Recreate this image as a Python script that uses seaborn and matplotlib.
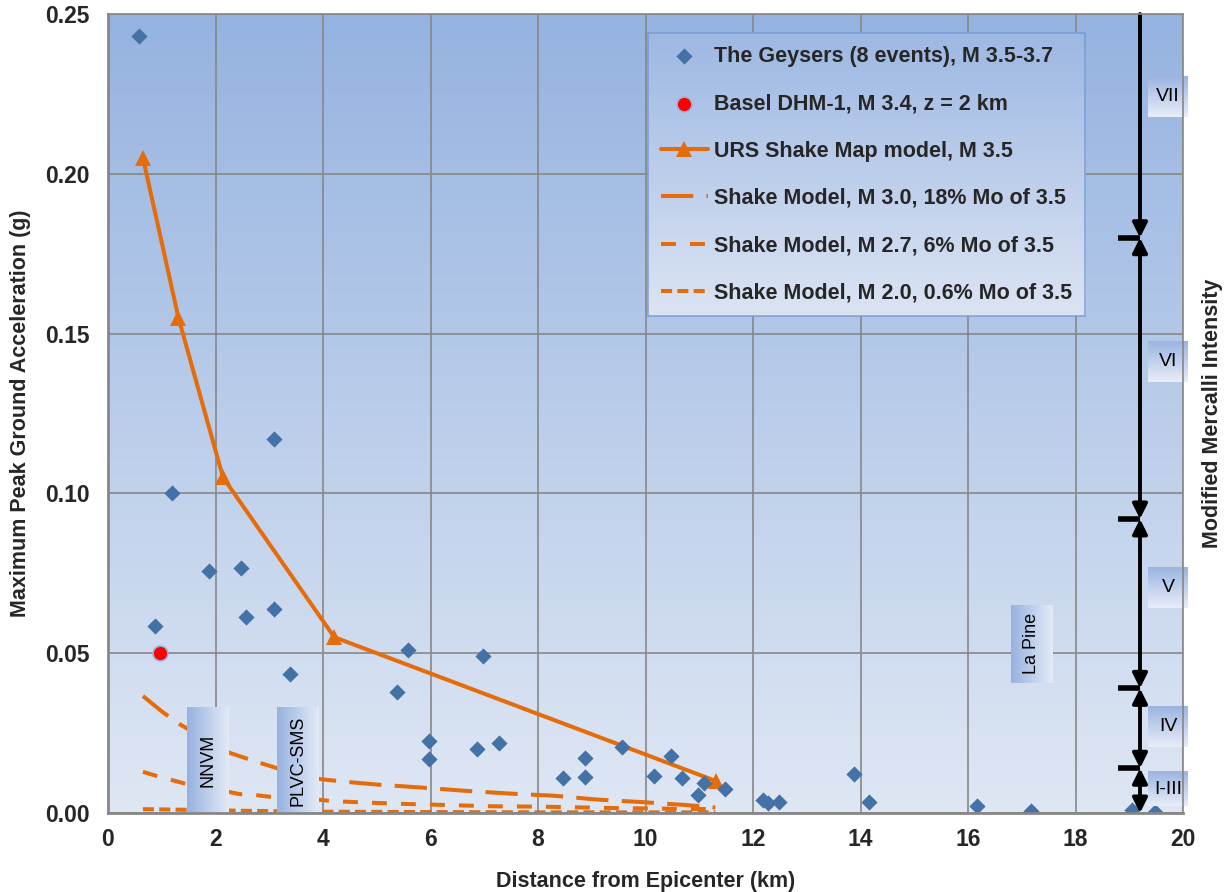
import numpy as np
import pandas as pd
import matplotlib
matplotlib.use("Agg")
import matplotlib.pyplot as plt
import seaborn as sns
from matplotlib.colors import LinearSegmentedColormap

# ---------------- data ----------------
geysers_dist = [0.58, 0.88, 1.19, 1.88, 2.48, 2.57, 3.08, 3.08, 3.38, 5.38, 5.58, 5.98, 5.98,
                6.98, 6.87, 7.27, 8.47, 8.87, 8.87, 9.57, 10.16, 10.47, 10.67, 11.08, 10.97,
                11.47, 12.18, 12.27, 12.48, 13.87, 14.16, 16.17, 17.17, 19.06, 19.47]
geysers_pga = [0.243, 0.0586, 0.100, 0.0756, 0.0766, 0.0612, 0.117, 0.0639, 0.0434, 0.0379, 0.0510,
               0.0226, 0.0169, 0.0490, 0.0200, 0.0220, 0.0108, 0.0172, 0.0113, 0.0208, 0.0117,
               0.0177, 0.0108, 0.0095, 0.0056, 0.0076, 0.0041, 0.0032, 0.0033, 0.0122, 0.0034,
               0.0022, 0.0007, 0.0009, 0.0004]

basel_dist = [0.97]
basel_pga = [0.050]

urs_dist = [0.65, 1.31, 2.14, 4.21, 11.31]
urs_pga = [0.205, 0.155, 0.105, 0.055, 0.010]

m30_dist = [0.65, 1.0, 1.3, 2.25, 2.75, 3.15, 3.95, 4.4, 5.0, 5.8, 6.6, 7.45, 8.3, 9.1, 9.95, 10.75, 11.3]
m30_pga = [0.0366, 0.0318, 0.0281, 0.0189, 0.0161, 0.0140, 0.0106, 0.0098, 0.0089, 0.0080, 0.0070,
           0.0061, 0.0054, 0.0042, 0.0034, 0.0025, 0.0017]

m27_dist = [0.65, 0.9, 1.15, 1.45, 2.25, 2.45, 2.75, 3.0, 3.95, 4.2, 4.75, 5.6, 6.3, 7.15, 8.0, 9.6, 11.3]
m27_pga = [0.0129, 0.0116, 0.0105, 0.0091, 0.0066, 0.0059, 0.0056, 0.0051, 0.0041, 0.0037, 0.0033,
           0.0028, 0.0025, 0.0021, 0.0020, 0.0015, 0.0012]

m20_dist = [0.65, 1.5, 2.5, 4.0, 6.0, 8.0, 10.0, 11.3]
m20_pga = [0.0012, 0.0010, 0.0007, 0.0004, 0.0003, 0.0002, 0.0002, 0.0002]

series_labels = ["The Geysers (8 events), M 3.5-3.7",
                 "Basel DHM-1, M 3.4, z = 2 km",
                 "URS Shake Map model, M 3.5",
                 "Shake Model, M 3.0, 18% Mo of 3.5",
                 "Shake Model, M 2.7, 6% Mo of 3.5",
                 "Shake Model, M 2.0, 0.6% Mo of 3.5"]

mmi_seg_top = [0.25, 0.18, 0.092, 0.039, 0.014]
mmi_seg_bottom = [0.18, 0.092, 0.039, 0.014, 0.0]
mmi_bounds = [0.18, 0.092, 0.039, 0.014]
mmi_labels = ["VII", "VI", "V", "IV", "I-III"]
mmi_label_y = [0.2242, 0.1414, 0.0706, 0.0271, 0.0075]

site_names = ["NNVM", "PLVC-SMS", "La Pine"]
site_x = [1.47, 3.14, 16.80]
site_y0 = [0.0, 0.0, 0.0407]
site_y1 = [0.0329, 0.0329, 0.0651]

x_ticks = [0, 2, 4, 6, 8, 10, 12, 14, 16, 18, 20]
y_ticks = [0.00, 0.05, 0.10, 0.15, 0.20, 0.25]

# ---------------- style ----------------
sns.set_theme(style="white")
plt.rcParams['font.family'] = ['Liberation Sans', 'DejaVu Sans']

ORANGE = "#E46C0A"
BLUE = "#4471A6"
GRID = "#878787"

fig = plt.figure(figsize=(12.26, 8.92), dpi=100)
ax = fig.add_axes([108 / 1226, 1 - 813 / 892, (1183 - 108) / 1226, (813 - 14) / 892])

# background gradient
bg_cmap = LinearSegmentedColormap.from_list("bg", ["#DFE7F4", "#95B3E0"])
grad = np.linspace(0, 1, 256).reshape(-1, 1)
ax.imshow(grad, cmap=bg_cmap, origin="lower", extent=[0, 1, 0, 1],
          transform=ax.transAxes, aspect="auto", zorder=0)

# ---------------- marks ----------------
sns.scatterplot(x=geysers_dist, y=geysers_pga, marker="D", s=68, color=BLUE,
                edgecolor=BLUE, linewidth=0, label=series_labels[0], ax=ax, zorder=6)
sns.scatterplot(x=basel_dist, y=basel_pga, marker="o", s=115, color="#FF0000",
                edgecolor="#9DB3DD", linewidth=1.2, label=series_labels[1], ax=ax, zorder=6)
sns.lineplot(x=urs_dist, y=urs_pga, marker="^", markersize=12, markeredgewidth=0,
             color=ORANGE, linewidth=2.9, sort=False, label=series_labels[2], ax=ax, zorder=4)
sns.lineplot(x=m30_dist, y=m30_pga, color=ORANGE, linewidth=2.9, linestyle=(0, (8, 3.3)),
             sort=False, label=series_labels[3], ax=ax, zorder=2)
sns.lineplot(x=m27_dist, y=m27_pga, color=ORANGE, linewidth=2.9, linestyle=(0, (3.7, 3.5)),
             sort=False, label=series_labels[4], ax=ax, zorder=2)
sns.lineplot(x=m20_dist, y=m20_pga, color=ORANGE, linewidth=2.9, linestyle=(0, (2.75, 1.3)),
             sort=False, label=series_labels[5], ax=ax, zorder=2)

# site label boxes (horizontal gradient)
site_cmap = LinearSegmentedColormap.from_list("site", ["#97B2E0", "#E4EAF6"])
hgrad = np.linspace(0, 1, 256).reshape(1, -1)
for name, x0, y0, y1 in zip(site_names, site_x, site_y0, site_y1):
    ax.imshow(hgrad, cmap=site_cmap, extent=[x0, x0 + 0.78, y0, y1], aspect="auto", zorder=3)
    ax.text(x0 + 0.39, (y0 + y1) / 2, name, rotation=90, ha="center", va="center",
            fontsize=13, color="black", zorder=3.5)

# Mercalli intensity arrows
arrow_x = 19.2
for i, (top, bot) in enumerate(zip(mmi_seg_top, mmi_seg_bottom)):
    style = "-|>" if i == 0 else "<|-|>"
    ax.annotate("", xy=(arrow_x, bot), xytext=(arrow_x, top),
                arrowprops=dict(arrowstyle=style, color="black", lw=2.8,
                                shrinkA=0, shrinkB=0, mutation_scale=22),
                zorder=7, annotation_clip=False)
ax.hlines(mmi_bounds, 18.79, arrow_x, colors="black", linewidth=4, zorder=7)

mmi_cmap = LinearSegmentedColormap.from_list("mmi", ["#E8EDF8", "#9BB4E1"])
for lab, yc in zip(mmi_labels, mmi_label_y):
    h = 0.0108 if lab == "I-III" else 0.0128
    im = ax.imshow(grad, cmap=mmi_cmap, origin="lower",
                   extent=[19.35, 20.09, yc - h / 2, yc + h / 2], aspect="auto", zorder=8)
    im.set_clip_on(False)
    ax.text(19.72, yc, lab, ha="center", va="center", fontsize=14, color="black",
            zorder=8.5, clip_on=False)

# ---------------- axes ----------------
ax.set_xlim(0, 20)
ax.set_ylim(0, 0.25)
ax.set_xticks(x_ticks)
ax.set_yticks(y_ticks)
ax.set_xticklabels([str(v) for v in x_ticks])
ax.set_yticklabels([f"{v:.2f}" for v in y_ticks])
ax.set_xticks(np.arange(0, 20.01, 0.5), minor=True)
ax.set_yticks(np.arange(0, 0.2501, 0.01), minor=True)
ax.tick_params(axis="both", which="major", direction="out", length=5, width=1.3,
               color=GRID, labelsize=16.5)
ax.tick_params(axis="y", which="major", pad=8)
ax.tick_params(axis="x", which="major", pad=6)
ax.tick_params(axis="both", which="minor", direction="out", length=3.5, width=1.1, color=GRID)
for lbl in ax.get_xticklabels() + ax.get_yticklabels():
    lbl.set_fontweight("bold")
ax.grid(True, which="major", color=GRID, linewidth=1.2)
ax.set_axisbelow(True)
for side, sp in ax.spines.items():
    sp.set_color(GRID)
    sp.set_linewidth(2 if side in ("left", "bottom") else 1.2)
    sp.set_zorder(9)

ax.set_xlabel("Distance from Epicenter (km)", fontsize=15.5, fontweight="bold", labelpad=14)
ax.set_ylabel("Maximum Peak Ground Acceleration (g)", fontsize=15.5, fontweight="bold", labelpad=10)
ax.text(1.027, 0.5, "Modified Mercalli Intensity", transform=ax.transAxes, rotation=90,
        ha="center", va="center", fontsize=15.5, fontweight="bold")

# ---------------- legend ----------------
handles, labels = ax.get_legend_handles_labels()
order = [labels.index(l) for l in series_labels]
leg = ax.legend([handles[i] for i in order], [labels[i] for i in order],
                loc="upper left", bbox_to_anchor=(0.502, 0.976), borderaxespad=0,
                prop={"weight": "bold", "size": 15.5},
                handlelength=2.2, handletextpad=0.3, labelspacing=1.22, borderpad=0.6,
                frameon=True, fancybox=False)
leg.get_frame().set_facecolor("none")
leg.get_frame().set_edgecolor("#6F98D2")
leg.get_frame().set_linewidth(1.2)
leg.set_zorder(20)

fig.canvas.draw()
bb = leg.get_window_extent()
(ax0, ay0), (ax1, ay1) = ax.transAxes.inverted().transform([[bb.x0, bb.y0], [bb.x1, bb.y1]])
leg_cmap = LinearSegmentedColormap.from_list("leg", ["#DCE4F3", "#9DB8E3"])
lim = ax.imshow(grad, cmap=leg_cmap, origin="lower", extent=[ax0, ax1, ay0, ay1],
                transform=ax.transAxes, aspect="auto", zorder=19)
lim.set_clip_on(False)
ax.set_xlim(0, 20)
ax.set_ylim(0, 0.25)

fig.savefig("out.png", dpi=100, facecolor="white")
